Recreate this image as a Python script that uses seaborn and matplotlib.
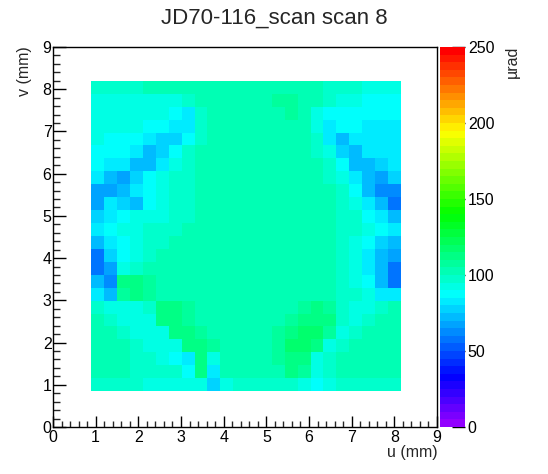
import colorsys
import numpy as np
import matplotlib
matplotlib.use("Agg")
import matplotlib.pyplot as plt
from matplotlib.colors import ListedColormap
import seaborn as sns

title = "JD70-116_scan scan 8"
x_label = "u (mm)"
y_label = "v (mm)"
z_label = "µrad"

# extent of the scanned area (mm)
u_range = (0.9, 8.15)
v_range = (0.85, 8.2)

# deflection (µrad), top row first, left to right
rows = [
    [98, 98, 98, 99, 100, 101, 102, 102, 102, 102, 102, 102, 102, 102, 103, 103, 102, 101, 99, 97, 95, 93, 92, 92],
    [93, 92, 92, 92, 92, 93, 94, 97, 100, 102, 102, 102, 102, 103, 106, 108, 103, 100, 97, 94, 90, 87, 85, 85],
    [92, 91, 91, 91, 91, 91, 89, 84, 98, 101, 102, 102, 102, 103, 104, 105, 101, 90, 88, 86, 86, 86, 85, 86],
    [91, 91, 90, 90, 89, 87, 80, 82, 96, 101, 102, 102, 103, 103, 104, 104, 100, 90, 82, 86, 86, 84, 83, 84],
    [90, 89, 89, 88, 83, 76, 76, 86, 98, 101, 102, 102, 102, 103, 103, 103, 101, 97, 80, 74, 82, 84, 84, 83],
    [89, 88, 86, 80, 72, 76, 86, 96, 100, 102, 102, 102, 102, 102, 102, 102, 101, 99, 90, 76, 74, 80, 83, 83],
    [87, 84, 80, 70, 74, 83, 93, 98, 100, 101, 102, 102, 102, 102, 102, 102, 101, 100, 97, 86, 72, 70, 78, 82],
    [80, 70, 68, 76, 86, 90, 96, 99, 101, 102, 102, 102, 102, 102, 102, 102, 102, 101, 99, 93, 80, 70, 66, 76],
    [66, 66, 74, 84, 88, 92, 96, 99, 101, 102, 102, 102, 102, 102, 102, 102, 102, 102, 100, 96, 86, 74, 64, 62],
    [66, 80, 76, 74, 86, 91, 95, 98, 101, 102, 102, 102, 102, 102, 102, 102, 102, 102, 101, 97, 91, 83, 72, 58],
    [78, 84, 88, 90, 92, 94, 97, 99, 101, 102, 102, 102, 102, 102, 102, 102, 102, 102, 101, 99, 95, 88, 80, 72],
    [80, 86, 90, 93, 95, 97, 99, 100, 101, 102, 102, 102, 102, 102, 102, 102, 102, 102, 101, 99, 96, 91, 86, 80],
    [74, 80, 88, 93, 96, 98, 100, 100, 101, 102, 102, 102, 102, 102, 102, 102, 102, 102, 101, 99, 94, 86, 78, 72],
    [58, 76, 88, 94, 98, 100, 100, 101, 102, 102, 102, 102, 102, 102, 102, 102, 102, 101, 100, 98, 91, 83, 74, 68],
    [58, 66, 90, 98, 100, 101, 102, 102, 102, 102, 102, 102, 102, 102, 102, 102, 102, 101, 100, 98, 90, 82, 72, 58],
    [70, 62, 112, 110, 106, 103, 102, 102, 102, 102, 102, 102, 102, 102, 102, 102, 102, 101, 100, 98, 93, 86, 74, 58],
    [80, 74, 108, 112, 106, 102, 102, 102, 102, 102, 102, 102, 102, 102, 102, 102, 102, 101, 100, 98, 95, 90, 84, 80],
    [98, 93, 90, 90, 98, 110, 110, 105, 102, 102, 102, 102, 102, 102, 102, 103, 108, 110, 108, 98, 91, 93, 96, 100],
    [100, 98, 94, 90, 92, 111, 113, 108, 103, 102, 102, 102, 102, 102, 103, 108, 112, 114, 112, 98, 92, 98, 100, 100],
    [100, 100, 98, 93, 90, 93, 111, 113, 108, 103, 102, 102, 102, 103, 106, 111, 115, 116, 108, 93, 96, 100, 100, 100],
    [100, 100, 100, 98, 94, 90, 90, 110, 114, 108, 103, 102, 102, 103, 108, 115, 118, 114, 92, 96, 100, 100, 100, 100],
    [100, 100, 100, 98, 96, 93, 88, 84, 114, 90, 103, 102, 102, 103, 106, 113, 114, 93, 96, 100, 100, 100, 100, 100],
    [100, 100, 100, 98, 98, 96, 96, 86, 110, 83, 101, 102, 102, 102, 104, 110, 108, 92, 98, 100, 100, 100, 100, 100],
    [98, 98, 98, 96, 94, 93, 92, 90, 94, 78, 94, 95, 95, 95, 95, 95, 94, 88, 94, 95, 95, 95, 95, 95],
]

axis_ticks = list(range(10))
z_ticks = [0, 50, 100, 150, 200, 250]

sns.set_style("white")
plt.rcParams["font.family"] = ["Liberation Sans", "DejaVu Sans"]

# ROOT style "pretty" palette: 50 hues going from violet to red
palette = [colorsys.hls_to_rgb((280 - (i + 1) * 5.6) / 360, 0.5, 1.0) for i in range(50)]
cmap = ListedColormap(palette)

W, H = 548, 474
fig = plt.figure(figsize=(W / 100, H / 100), dpi=100)
ax = fig.add_axes([53 / W, 47 / H, 384 / W, 380 / H])
cax = fig.add_axes([440 / W, 47 / H, 25 / W, 380 / H])

grid = np.array(rows, dtype=float)
ny, nx = grid.shape
du = (u_range[1] - u_range[0]) / nx
dv = (v_range[1] - v_range[0]) / ny


def to_col(u):
    return (u - u_range[0]) / du


def to_row(v):
    return (v_range[1] - v) / dv


sns.heatmap(grid, ax=ax, cmap=cmap, vmin=0, vmax=250, cbar_ax=cax,
            xticklabels=False, yticklabels=False)

# put the cells on the mm axes
ax.set_xlim(to_col(0), to_col(9))
ax.set_ylim(to_row(0), to_row(9))
ax.set_xticks([to_col(t) for t in axis_ticks], [str(t) for t in axis_ticks])
ax.set_yticks([to_row(t) for t in axis_ticks], [str(t) for t in axis_ticks])
ax.set_xticks([to_col(t / 5) for t in range(46)], minor=True)
ax.set_yticks([to_row(t / 5) for t in range(46)], minor=True)
ax.tick_params(axis="x", which="major", direction="in", length=8, width=1,
               labelsize=11.5, pad=2.5, bottom=True, colors="black")
ax.tick_params(axis="x", which="minor", direction="in", length=4, width=1, bottom=True)
ax.tick_params(axis="y", which="major", direction="in", length=9.5, width=1,
               labelsize=11.5, pad=1, left=True, colors="black")
ax.tick_params(axis="y", which="minor", direction="in", length=5, width=1, left=True)
ax.tick_params(labelrotation=0)
for s in ax.spines.values():
    s.set_visible(True)
    s.set_color("black")
    s.set_linewidth(1)

cbar = ax.collections[0].colorbar
cbar.set_ticks(z_ticks)
cbar.outline.set_visible(False)
cax.tick_params(direction="in", length=9.5, width=1, labelsize=11.5, pad=2, colors="black")

fig.text(0.5, 1 - 18 / H, title, ha="center", va="center", fontsize=16)
fig.text(438 / W, 1 - 452 / H, x_label, ha="right", va="center", fontsize=11.5)
fig.text(24 / W, 1 - 46 / H, y_label, ha="center", va="top", rotation=90, fontsize=11.5)
fig.text(512 / W, 1 - 46 / H, z_label, ha="center", va="top", rotation=90, fontsize=11.5)

fig.savefig("out.png", dpi=100)
